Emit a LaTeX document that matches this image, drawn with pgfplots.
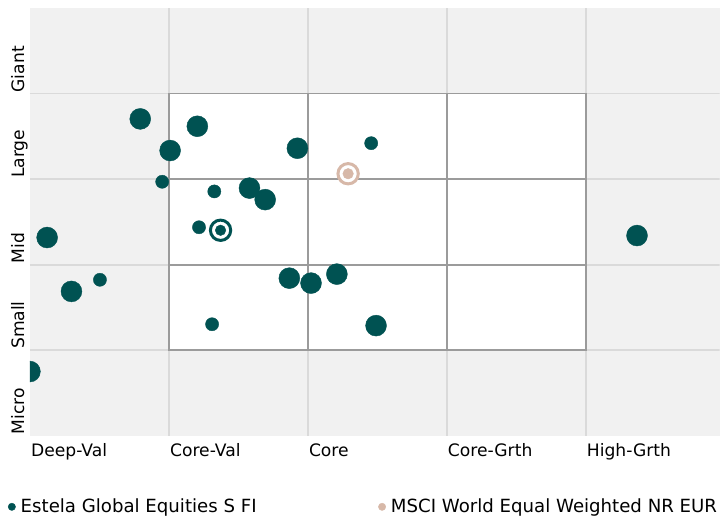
\documentclass[border=0pt]{standalone}
\usepackage{pgfplots}
\pgfplotsset{compat=1.18}
\usepackage{fontspec}
\setmainfont{DejaVu Sans}
\definecolor{fundcol}{RGB}{0,82,82}
\definecolor{benchcol}{RGB}{215,184,168}
\definecolor{bgcol}{RGB}{241,241,241}
\definecolor{lightgrid}{RGB}{218,218,218}
\definecolor{boxline}{RGB}{155,155,155}
\begin{document}
\fontsize{17.2bp}{21bp}\selectfont
\begin{tikzpicture}
\begin{axis}[
  scale only axis,
  width=692bp, height=429bp,
  xmin=0, xmax=4.964, ymin=0, ymax=5,
  axis background/.style={fill=bgcol},
  axis line style={draw=none},
  tick style={draw=none},
  major tick length=0pt,
  clip marker paths=true,
  xtick={0,1,2,3,4},
  xticklabels={Deep-Val,Core-Val,Core,Core-Grth,High-Grth},
  x tick label style={anchor=north west, inner sep=0pt, yshift=-7.5bp, xshift=1bp},
  ytick={0,1,2,3,4},
  yticklabels={Micro,Small,Mid,Large,Giant},
  y tick label style={xshift=-5.5bp, yshift=1bp, rotate=90, anchor=south west, inner sep=0pt, text depth=0pt},
  legend columns=2,
  legend style={draw=none, fill=none, inner sep=0pt, outer sep=0pt,
    font=\fontsize{18.2bp}{21bp}\selectfont,
    at={(axis description cs:-0.0318,-0.1665)}, anchor=west,
    nodes={inner xsep=5bp, inner ysep=0pt},
    /tikz/every even column/.append style={column sep=117bp}},
  legend cell align=left,
]
% background box and grid
\fill[white] (axis cs:1,1) rectangle (axis cs:4,4);
\draw[lightgrid, line width=2bp] (axis cs:1,0) -- (axis cs:1,5);
\draw[lightgrid, line width=2bp] (axis cs:2,0) -- (axis cs:2,5);
\draw[lightgrid, line width=2bp] (axis cs:3,0) -- (axis cs:3,5);
\draw[lightgrid, line width=2bp] (axis cs:4,0) -- (axis cs:4,5);
\draw[lightgrid, line width=2bp] (axis cs:0,1) -- (axis cs:5,1);
\draw[lightgrid, line width=2bp] (axis cs:0,2) -- (axis cs:5,2);
\draw[lightgrid, line width=2bp] (axis cs:0,3) -- (axis cs:5,3);
\draw[lightgrid, line width=2bp] (axis cs:0,4) -- (axis cs:5,4);
\draw[boxline, line width=2bp] (axis cs:1,1) rectangle (axis cs:4,4);
\draw[boxline, line width=2bp] (axis cs:2,1) -- (axis cs:2,4);
\draw[boxline, line width=2bp] (axis cs:3,1) -- (axis cs:3,4);
\draw[boxline, line width=2bp] (axis cs:1,2) -- (axis cs:4,2);
\draw[boxline, line width=2bp] (axis cs:1,3) -- (axis cs:4,3);
% fund holdings, large
\addplot[only marks, mark=*, mark size=10.5bp, color=fundcol,
  legend image code/.code={\fill[fundcol] (0bp,0bp) circle (3.7bp);}]
  coordinates {
  (0.794,3.703) (1.205,3.617) (1.009,3.333) (1.925,3.360)
  (1.580,2.894) (1.693,2.759) (0.124,2.316) (4.369,2.339)
  (0.299,1.686) (1.867,1.841) (2.023,1.783) (2.209,1.888)
  (0.000,0.749) (2.491,1.286)
  };
\addlegendentry{Estela Global Equities S FI}
% fund holdings, small
\addplot[only marks, mark=*, mark size=6.6bp, color=fundcol, forget plot]
  coordinates {
  (0.952,2.968) (1.327,2.855) (1.217,2.436) (2.456,3.419)
  (0.504,1.822) (1.311,1.302)
  };
% fund centroid
\addplot[only marks, mark=*, mark size=10.2bp, forget plot,
  mark options={fill=white, draw=fundcol, line width=3bp}]
  coordinates {(1.372,2.401)};
\addplot[only marks, mark=*, mark size=5.3bp, color=fundcol, forget plot]
  coordinates {(1.372,2.401)};
% benchmark centroid
\addplot[only marks, mark=*, mark size=10.2bp,
  mark options={fill=white, draw=benchcol, line width=3bp},
  legend image code/.code={\fill[benchcol] (0bp,0bp) circle (3.7bp);}]
  coordinates {(2.290,3.062)};
\addlegendentry{MSCI World Equal Weighted NR EUR}
\addplot[only marks, mark=*, mark size=5.3bp, color=benchcol, forget plot]
  coordinates {(2.290,3.062)};
\end{axis}
\path[use as bounding box] (-30bp,-80bp) rectangle (692bp,437bp);
\end{tikzpicture}
\end{document}
